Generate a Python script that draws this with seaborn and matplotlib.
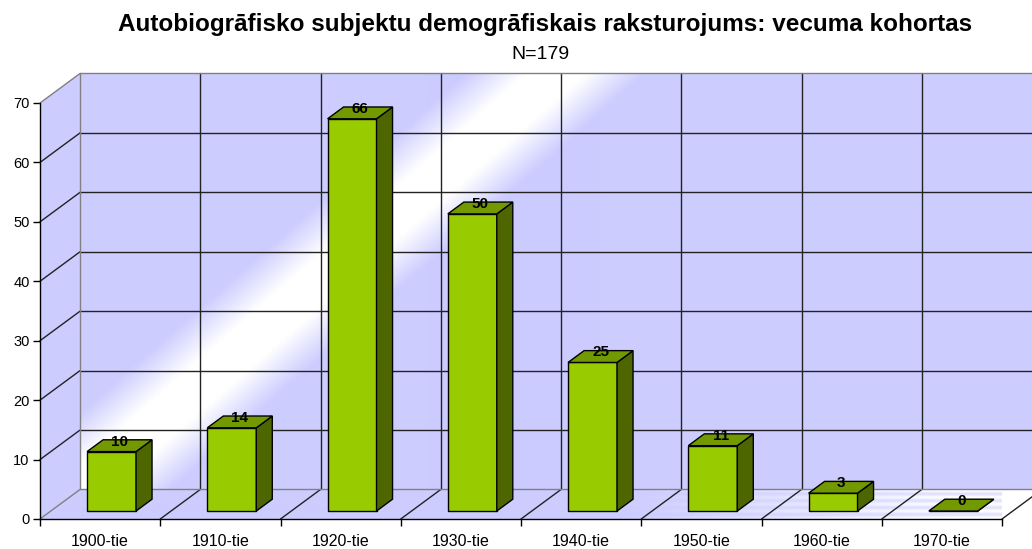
import numpy as np
import matplotlib
matplotlib.use("Agg")
import matplotlib.pyplot as plt
from matplotlib.patches import Polygon
import seaborn as sns

# data
cohorts = ["1900-tie", "1910-tie", "1920-tie", "1930-tie",
           "1940-tie", "1950-tie", "1960-tie", "1970-tie"]
counts = [10, 14, 66, 50, 25, 11, 3, 0]
y_ticks = [0, 10, 20, 30, 40, 50, 60, 70]
title = "Autobiogrāfisko subjektu demogrāfiskais raksturojums: vecuma kohortas"
subtitle = "N=179"

# colours
LAV = np.array([204, 204, 255]) / 255
FRONT = "#99CC00"
TOP = "#739900"
SIDE = "#4D6600"
WALL_EDGE = "#808080"
GRID = "#222222"

# pseudo 3D geometry (data units)
DX, DY = 0.333, 4.97      # full depth offset
F0, FD = 0.27, 0.40       # bar start depth / bar depth (fractions)
BAR_W = 0.407
SHIFT = 0.095

sns.set_theme(style="white")
plt.rcParams["font.family"] = ["Liberation Sans", "DejaVu Sans"]
plt.rcParams["text.color"] = "black"
plt.rcParams["xtick.color"] = "black"
plt.rcParams["ytick.color"] = "black"

fig = plt.figure(figsize=(10.32, 5.49), dpi=100)
ax = fig.add_axes([40 / 1032, 30 / 549, 962 / 1032, 416 / 549])
ax.patch.set_visible(False)

sns.barplot(x=cohorts, y=counts, color=FRONT, saturation=1, width=BAR_W,
            errorbar=None, edgecolor="black", linewidth=1, zorder=3, ax=ax)
bars = list(ax.patches)
for p in bars:
    p.set_x(p.get_x() + SHIFT)
    p.set_y(p.get_y() + F0 * DY)

ax.set_xlim(-0.5, 7.5)
ax.set_ylim(0, 70)
ax.set_xlabel("")
ax.set_ylabel("")

x0, x1 = -0.5 + DX, 7.5 + DX
y0, y1 = DY, 70 + DY
fig_h = fig.bbox.height

# back wall with diagonal glossy band
(px0, py0), (px1, py1) = ax.transData.transform([(x0, y0), (x1, y1)])
W, H = int(px1 - px0), int(py1 - py0)
X, Y = np.meshgrid(np.linspace(px0, px1, W), fig_h - np.linspace(py1, py0, H))
d = np.abs(X + 1.14 * Y - 640)
w = np.clip(1 - (d - 30) / 60, 0, 1)[..., None]
back = LAV * (1 - w) + w
im = ax.imshow(back, extent=(x0, x1, y0, y1), aspect="auto", zorder=0,
               interpolation="bilinear")
im.set_clip_on(False)

# floor
floor = Polygon([(-0.5, 0), (7.5, 0), (7.5 + DX, DY), (-0.5 + DX, DY)],
                closed=True, transform=ax.transData)
(fx0, fy0), (fx1, fy1) = ax.transData.transform([(-0.5, 0), (7.5 + DX, DY)])
FW, FH = int(fx1 - fx0), max(int(fy1 - fy0), 2)
X, Y = np.meshgrid(np.linspace(fx0, fx1, FW), fig_h - np.linspace(fy1, fy0, FH))
w = np.clip((X - 620) / 330, 0, 1) * (0.7 + 0.3 * np.sin(Y * 0.9))
w = np.clip(w, 0, 1)[..., None]
im2 = ax.imshow(LAV * (1 - w) + w, extent=(-0.5, 7.5 + DX, 0, DY),
                aspect="auto", zorder=0, interpolation="bilinear")
im2.set_clip_path(floor)
im2.set_clip_box(None)

# left side wall
ax.add_patch(Polygon([(-0.5, 0), (-0.5, 70), (x0, y1), (x0, y0)],
                     closed=True, facecolor=LAV, edgecolor="none",
                     zorder=0, clip_on=False))

# grid lines
for v in y_ticks[1:-1]:
    ax.plot([x0, x1], [v + DY, v + DY], color=GRID, lw=1, zorder=1, clip_on=False)
    ax.plot([-0.5, x0], [v, v + DY], color=GRID, lw=1, zorder=1, clip_on=False)
for k in range(1, 8):
    ax.plot([k - 0.5 + DX] * 2, [y0, y1], color=GRID, lw=1, zorder=1, clip_on=False)
for k in range(1, 9):
    ax.plot([k - 0.5, k - 0.5 + DX], [0, DY], color=GRID, lw=1, zorder=1, clip_on=False)

# wall borders
for xs, ys in [([x0, x1], [y1, y1]), ([x0, x0], [y0, y1]), ([x0, x1], [y0, y0]),
               ([-0.5, x0], [70, y1]), ([-0.5, x0], [0, y0])]:
    ax.plot(xs, ys, color=WALL_EDGE, lw=1, zorder=1, clip_on=False)

# 3D bar faces and value labels
bdx, bdy = FD * DX, FD * DY
for p, v in zip(bars, counts):
    xl = p.get_x()
    xr = xl + p.get_width()
    b = p.get_y()
    t = b + p.get_height()
    ax.add_patch(Polygon([(xr, b), (xr + bdx, b + bdy), (xr + bdx, t + bdy), (xr, t)],
                         closed=True, facecolor=SIDE, edgecolor="black", lw=1,
                         zorder=3, clip_on=False))
    ax.add_patch(Polygon([(xl, t), (xr, t), (xr + bdx, t + bdy), (xl + bdx, t + bdy)],
                         closed=True, facecolor=TOP, edgecolor="black", lw=1,
                         zorder=3, clip_on=False))
    ax.annotate(str(v), ((xl + xr) / 2 + bdx / 2, t + bdy / 2), xytext=(0, 3),
                textcoords="offset points", ha="center", va="center",
                fontsize=11, fontweight="bold", zorder=4, annotation_clip=False)

# front axes
for s in ["top", "right"]:
    ax.spines[s].set_visible(False)
for s in ["left", "bottom"]:
    ax.spines[s].set_color("black")
    ax.spines[s].set_linewidth(1)
    ax.spines[s].set_zorder(2)

ax.set_yticks(y_ticks)
ax.tick_params(axis="y", direction="out", length=5, width=1, color="black",
               pad=2.5, labelsize=10.5, left=True)
ax.set_xticks(np.arange(-0.5, 8, 1))
ax.set_xticklabels([])
ax.set_xticks(range(len(cohorts)), minor=True)
ax.set_xticklabels(cohorts, minor=True)
ax.tick_params(axis="x", which="major", direction="out", length=5, width=1,
               color="black", bottom=True)
ax.tick_params(axis="x", which="minor", length=0, pad=11, labelsize=11.5)
ax.grid(False)

fig.text(545 / 1032, 1 - 31 / 549, title, ha="center", va="baseline",
         fontsize=17.5, fontweight="bold")
fig.text(540 / 1032, 1 - 59 / 549, subtitle, ha="center", va="baseline", fontsize=14)

fig.savefig("out.png", dpi=100)
